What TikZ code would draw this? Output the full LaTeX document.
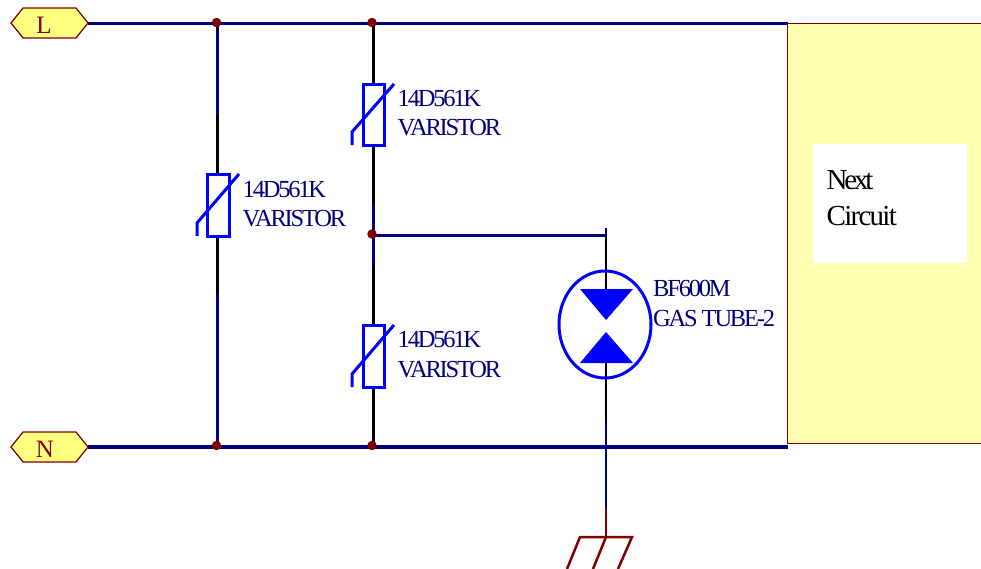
\documentclass[tikz,border=0pt]{standalone}
\usepackage{fontspec}
\setmainfont{Liberation Serif}
\newfontfamily\tightfont[LetterSpace=-9]{Liberation Serif}
\newfontfamily\tighterfont[LetterSpace=-11]{Liberation Serif}
\newfontfamily\circfont[LetterSpace=-6]{Liberation Serif}
\usetikzlibrary{shapes.geometric}
\definecolor{navyw}{HTML}{000080}
\definecolor{part}{HTML}{0000FF}
\definecolor{dred}{HTML}{800000}
\definecolor{pale}{HTML}{FFFFB0}
\definecolor{portfill}{HTML}{FFFF80}
\tikzset{
  bus/.style={draw=navyw,line width=3.3pt},
  wire/.style={draw=navyw,line width=2.5pt},
  blk/.style={draw=black,line width=2.5pt},
  redw/.style={draw=dred,line width=2.5pt},
  sym/.style={draw=part,line width=3pt},
  tag/.style={anchor=base west,inner sep=0pt,text=navyw,font=\tightfont\fontsize{24.5}{24.5}\selectfont},
  dot/.style={circle,fill=dred,inner sep=0pt,minimum size=9.5pt},
  port/.style={draw=dred,line width=1.2pt,fill=portfill,line join=miter},
  porttext/.style={inner sep=0pt,text=dred,font=\fontsize{25}{25}\selectfont},
}
\begin{document}
\begin{tikzpicture}[x=1pt,y=-1pt]
\useasboundingbox (0,0) rectangle (981,568);
% right panel
\fill[pale] (787.5,23.5) rectangle (981,443.5);
\draw[dred,line width=1.2pt] (981,23.5) -- (787.5,23.5) -- (787.5,443.5) -- (981,443.5);
\fill[white] (813,144) rectangle (967,263);
\node[anchor=base west,inner sep=0pt,font=\tighterfont\fontsize{29}{29}\selectfont] (nx) at (826.5,189) {Next};
\node[anchor=base west,inner sep=0pt,font=\circfont\fontsize{29}{29}\selectfont] (cc) at (826.5,225) {Circuit};
% named points
\coordinate (LE) at (88,23.5);
\coordinate (NE) at (88,447);
\coordinate (LR) at (788,23.5);
\coordinate (NR) at (788,447);
\coordinate (a1) at (217.5,115);
\coordinate (a2) at (217.5,174);
\coordinate (a3) at (217.5,236);
\coordinate (a4) at (217.5,295);
\coordinate (a5) at (217.5,447);
\coordinate (a0) at (217.5,23.5);
\coordinate (b0) at (373.5,23.5);
\coordinate (b1) at (373.5,84);
\coordinate (b2) at (373.5,145);
\coordinate (b3) at (373.5,205);
\coordinate (bm) at (373.5,235.2);
\coordinate (b4) at (373.5,265);
\coordinate (b5) at (373.5,325);
\coordinate (b6) at (373.5,387);
\coordinate (b7) at (373.5,447);
\coordinate (g0) at (606,228);
\coordinate (gm) at (606,235.2);
\coordinate (g1) at (606,289);
\coordinate (g2) at (606,363);
\coordinate (g3) at (606,422);
\coordinate (g4) at (606,508);
\coordinate (g5) at (606,537);
% wires
\path[wire] (a0) -- (a1);
\path[blk] (a1) -- (a2);
\path[blk] (a3) -- (a4);
\path[wire] (a4) -- (a5);
\path[blk] (b0) -- (b1);
\path[blk] (b2) -- (b3);
\path[wire] (b3) -- (b4);
\path[blk] (b4) -- (b5);
\path[blk] (b6) -- (b7);
\path[blk] (gm) -- (g1);
\path[blk] (g2) -- (g3);
\path[bus] (bm) -- (gm);
\path[wire] (g0) -- (gm);
\path[wire] (g3) -- (g4);
\path[redw] (g4) -- (g5);
% buses
\path[bus] (LE) -- (LR);
\path[bus] (NE) -- (NR);
% ports
\draw[port] (11,23) -- (23,8) -- (76,8) -- (88,23) -- (76,38) -- (23,38) -- cycle;
\node[porttext] (Lt) at (44,25) {L};
\draw[port] (11,447) -- (23,432) -- (76,432) -- (88,447) -- (76,462) -- (23,462) -- cycle;
\node[porttext] (Nt) at (45,449) {N};
% varistors
\draw[sym] (207,174) rectangle (229,236);
\draw[sym] (239,174) -- (197,223) -- (197,236);
\draw[sym] (363,84) rectangle (384,145);
\draw[sym] (394,84) -- (352,132) -- (352,145);
\draw[sym] (363,325) rectangle (384,387);
\draw[sym] (394,325) -- (352,374) -- (352,387);
% gas tube
\node[ellipse,sym,inner sep=0pt,minimum width=92pt,minimum height=107pt] (gt) at (605,324.5) {};
\fill[part] (580,289) -- (633,289) -- (606,320) -- cycle;
\fill[part] (580,363) -- (633,363) -- (606,332) -- cycle;
% ground
\draw[dred,line width=2.5pt] (567,569) -- (580,537) -- (632,537) -- (618,569);
\draw[dred,line width=2.5pt] (g5) -- (593,569);
% junctions
\node[dot] (j1) at (216.5,22.5) {};
\node[dot] (j2) at (372,22.5) {};
\node[dot] (j3) at (372,234) {};
\node[dot] (j4) at (216.5,445.5) {};
\node[dot] (j5) at (372,445.5) {};
% labels
\node[tag] (t1) at (242.5,197) {14D561K};
\node[tag] (t2) at (242.5,226) {VARISTOR};
\node[tag] (t3) at (397.5,106) {14D561K};
\node[tag] (t4) at (397.5,135.5) {VARISTOR};
\node[tag] (t5) at (397.5,347) {14D561K};
\node[tag] (t6) at (397.5,377) {VARISTOR};
\node[tag] (t7) at (653,296) {BF600M};
\node[tag] (t8) at (653,326) {GAS TUBE-2};
\end{tikzpicture}
\end{document}
